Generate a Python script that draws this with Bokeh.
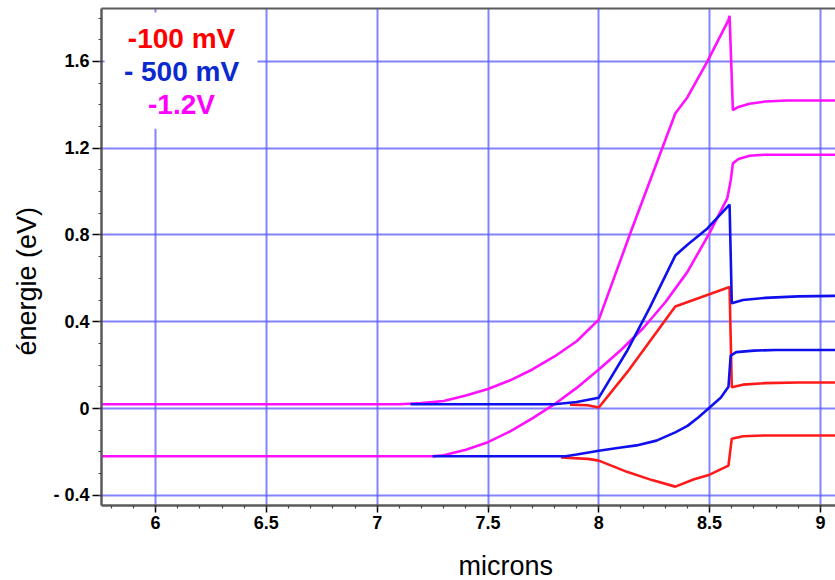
from bokeh.plotting import figure
from bokeh.models import (Range1d, FixedTicker, LinearAxis, Label, Title,
                          BoxAnnotation, CustomJSTickFormatter)
from bokeh.embed import file_html
from bokeh.resources import INLINE

# ---------------- data ----------------
mag_up_x = [5.70, 7.10, 7.20, 7.30, 7.40, 7.50, 7.60, 7.70, 7.80, 7.90, 8.00, 8.15,
            8.345, 8.40, 8.49, 8.585, 8.59, 8.605, 8.63, 8.68, 8.75, 8.85, 9.10]
mag_up_y = [0.02, 0.02, 0.025, 0.035, 0.06, 0.09, 0.13, 0.18, 0.24, 0.31, 0.41, 0.83,
            1.36, 1.435, 1.60, 1.79, 1.81, 1.375, 1.39, 1.405, 1.415, 1.42, 1.42]

mag_lo_x = [5.70, 7.25, 7.30, 7.40, 7.50, 7.60, 7.70, 7.80, 7.90, 8.00, 8.10, 8.20,
            8.30, 8.40, 8.50, 8.55, 8.58, 8.595, 8.605, 8.63, 8.68, 8.75, 9.10]
mag_lo_y = [-0.22, -0.22, -0.215, -0.19, -0.155, -0.105, -0.045, 0.02, 0.095, 0.18, 0.27, 0.37,
            0.49, 0.63, 0.81, 0.91, 0.97, 1.05, 1.13, 1.15, 1.165, 1.17, 1.17]

blu_up_x = [7.15, 7.80, 7.90, 8.00, 8.13, 8.23, 8.345, 8.40, 8.49, 8.59, 8.60, 8.65,
            8.75, 8.90, 9.10]
blu_up_y = [0.02, 0.02, 0.03, 0.05, 0.27, 0.465, 0.705, 0.755, 0.83, 0.94, 0.485, 0.50,
            0.51, 0.517, 0.52]

blu_lo_x = [7.25, 7.85, 7.90, 8.00, 8.10, 8.17, 8.26, 8.345, 8.40, 8.45, 8.50, 8.55,
            8.585, 8.595, 8.62, 8.70, 8.80, 9.10]
blu_lo_y = [-0.22, -0.22, -0.212, -0.195, -0.18, -0.17, -0.148, -0.11, -0.08, -0.04, 0.005, 0.05,
            0.10, 0.244, 0.26, 0.267, 0.27, 0.27]

red_up_x = [7.87, 7.95, 8.00, 8.13, 8.345, 8.59, 8.60, 8.65, 8.75, 8.90, 9.10]
red_up_y = [0.018, 0.015, 0.005, 0.17, 0.47, 0.56, 0.098, 0.11, 0.117, 0.12, 0.12]

red_lo_x = [7.83, 7.95, 8.00, 8.13, 8.24, 8.345, 8.43, 8.50, 8.585, 8.60, 8.65, 8.75, 9.10]
red_lo_y = [-0.226, -0.232, -0.24, -0.293, -0.33, -0.36, -0.326, -0.305, -0.263, -0.139,
            -0.128, -0.124, -0.124]

x_ticks = [6, 6.5, 7, 7.5, 8, 8.5, 9]
y_ticks = [-0.4, 0, 0.4, 0.8, 1.2, 1.6]
legend_labels = ["-100 mV", "- 500 mV", "-1.2V"]
legend_colors = ["#ff0000", "#0a2ad0", "#ff00ff"]
x_title = "microns"
y_title = "énergie (eV)"

x_minor = [round(5.8 + 0.1 * i, 1) for i in range(33)]
y_minor = [round(-0.4 + 0.1 * i, 1) for i in range(23)]

FONT = "Liberation Sans"

p = figure(width=835, height=580,
           x_range=Range1d(5.756, 9.068), y_range=Range1d(-0.447, 1.844),
           output_backend="svg", toolbar_location=None,
           min_border_left=101, min_border_right=0, min_border_top=8, min_border_bottom=75)
p.outline_line_color = None
p.background_fill_color = "white"
p.border_fill_color = "white"

xt = FixedTicker(ticks=x_ticks, minor_ticks=x_minor)
yt = FixedTicker(ticks=y_ticks, minor_ticks=y_minor)
fmt = CustomJSTickFormatter(code="return tick < 0 ? '- ' + (-tick).toString() : tick.toString();")

for ax, tk, out in ((p.xaxis[0], xt, 7), (p.yaxis[0], yt, 9)):
    ax.ticker = tk
    ax.formatter = fmt
    ax.axis_line_color = "#5a5a5a"
    ax.axis_line_width = 2.5
    ax.major_tick_line_color = "black"
    ax.major_tick_line_width = 1.5
    ax.major_tick_out = out
    ax.major_tick_in = 0
    ax.minor_tick_line_color = "#444444"
    ax.minor_tick_line_width = 1.2
    ax.minor_tick_out = 3
    ax.minor_tick_in = 0
    ax.major_label_text_font = FONT
    ax.major_label_text_font_size = "18px"
    ax.major_label_text_font_style = "bold"
    ax.major_label_text_color = "black"
    ax.major_label_standoff = 3

# invisible spacer label under the x axis to push the title down
p.xaxis[0].axis_label = " "
p.xaxis[0].axis_label_text_font_size = "2px"
p.xaxis[0].axis_label_standoff = 12

top_axis = LinearAxis(ticker=FixedTicker(ticks=[]), axis_line_color="#5a5a5a",
                      axis_line_width=2, major_tick_line_color=None,
                      minor_tick_line_color=None, major_label_text_font_size="0px",
                      major_label_standoff=0)
p.add_layout(top_axis, "above")

p.xgrid.ticker = xt
p.ygrid.ticker = yt
for g in (p.xgrid[0], p.ygrid[0]):
    g.grid_line_color = "#5a5aff"
    g.grid_line_width = 2
    g.grid_line_alpha = 0.75

LW = 2.6
p.line(mag_up_x, mag_up_y, line_color="#ff10ff", line_width=LW)
p.line(mag_lo_x, mag_lo_y, line_color="#ff10ff", line_width=LW)
p.line(red_up_x, red_up_y, line_color="#ff1a1a", line_width=LW)
p.line(red_lo_x, red_lo_y, line_color="#ff1a1a", line_width=LW)
p.line(blu_up_x, blu_up_y, line_color="#1010ee", line_width=LW)
p.line(blu_lo_x, blu_lo_y, line_color="#1010ee", line_width=LW)

box = BoxAnnotation(left=5.77, right=6.46, bottom=1.29, top=1.826,
                    fill_color="white", fill_alpha=1.0, line_color=None)
p.add_layout(box)

for lbl, col, yy in zip(legend_labels, legend_colors, [1.708, 1.554, 1.40]):
    p.add_layout(Label(x=6.117, y=yy, text=lbl, text_align="center",
                       text_baseline="middle", text_font=FONT,
                       text_font_size="28px", text_font_style="bold",
                       text_color=col))

p.add_layout(Title(text=x_title, align="left", offset=357, standoff=0,
                   text_font=FONT, text_font_size="27px",
                   text_font_style="normal", text_color="black"), "below")
p.add_layout(Title(text=y_title, align="left", offset=150, standoff=17,
                   text_font=FONT, text_font_size="27px",
                   text_font_style="normal", text_color="black"), "left")

open("out.html", "w").write(file_html(p, INLINE))
